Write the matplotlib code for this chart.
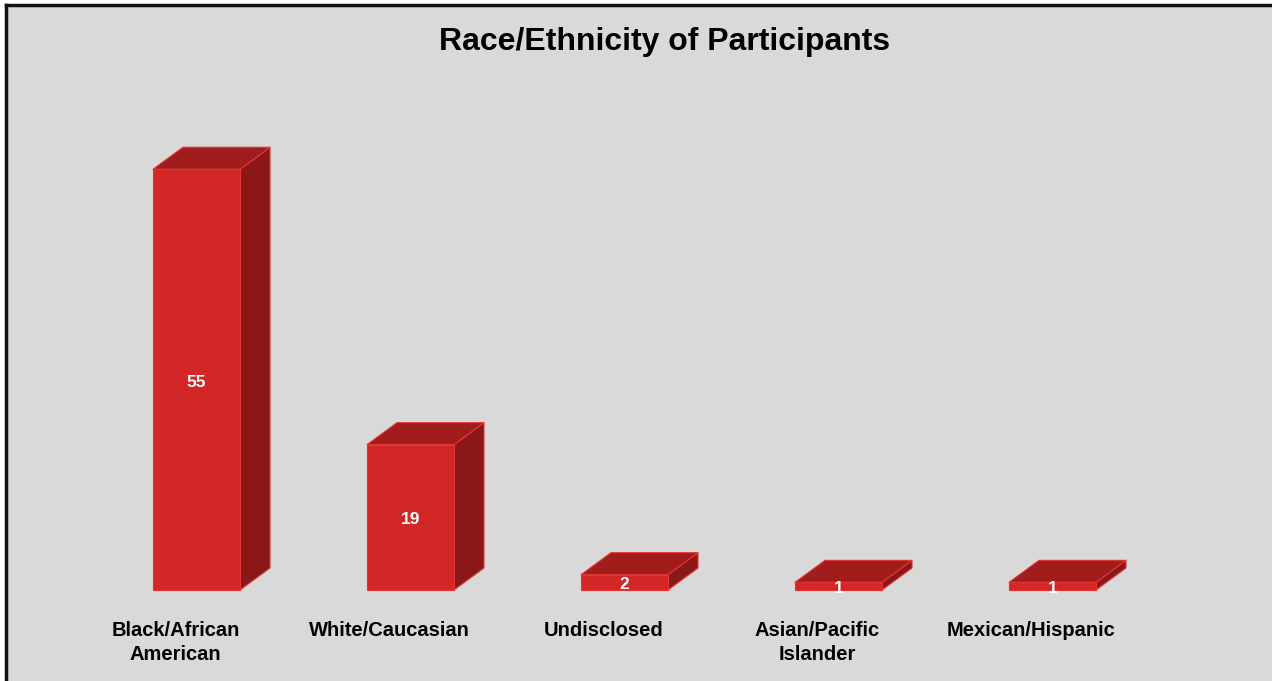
import numpy as np
import matplotlib.pyplot as plt
from matplotlib.patches import Polygon
from matplotlib.lines import Line2D

plt.rcParams['font.family'] = ['Liberation Sans', 'DejaVu Sans']

categories = ["Black/African\nAmerican", "White/Caucasian", "Undisclosed",
              "Asian/Pacific\nIslander", "Mexican/Hispanic"]
values = [55, 19, 2, 1, 1]
title = "Race/Ethnicity of Participants"

W, H = 1272, 681
fig = plt.figure(figsize=(W / 100, H / 100), dpi=100)
fig.patch.set_facecolor("white")

# pixel scale of the plot: one category = 214 px, one unit = 7.65 px
px_x, px_y = 214.0, 7.65
x0_px, y0_px = 196.5, 91.0
ax = fig.add_axes([0, 0, 1, 1])
ax.set_xlim(-x0_px / px_x, (W - x0_px) / px_x)
ax.set_ylim(-y0_px / px_y, (H - y0_px) / px_y)
ax.axis("off")

# grey chart area with black border on left/top
bg = plt.Rectangle((6 / W, 0), 1, 1 - 5 / H, transform=fig.transFigure,
                   facecolor="#D9D9D9", edgecolor="none", zorder=-10)
fig.patches.append(bg)
fig.lines.append(Line2D([6 / W, 6 / W], [0, 1 - 5 / H], transform=fig.transFigure,
                        color="#111111", lw=2.5))
fig.lines.append(Line2D([6 / W, 1], [1 - 5 / H, 1 - 5 / H], transform=fig.transFigure,
                        color="#111111", lw=2.5))

front_c, top_c, side_c, edge_c = "#D32626", "#A11C1C", "#8A1818", "#E23434"
half_w = 43.5 / px_x
dx = 30 / px_x
dy = 22 / px_y

for i, v in enumerate(values):
    l, r = i - half_w, i + half_w
    front = [(l, 0), (r, 0), (r, v), (l, v)]
    side = [(r, 0), (r + dx, dy), (r + dx, v + dy), (r, v)]
    top = [(l, v), (r, v), (r + dx, v + dy), (l + dx, v + dy)]
    for pts, c in ((side, side_c), (top, top_c), (front, front_c)):
        ax.add_patch(Polygon(pts, closed=True, facecolor=c, edgecolor=edge_c,
                             lw=0.8, joinstyle="round"))
    ax.text(i, v / 2 - 2.5 / px_y, str(v), ha="center", va="center", color="white",
            fontsize=12.5, fontweight="bold")
    ax.text(i - 21 / px_x, -31 / px_y, categories[i], ha="center", va="top",
            fontsize=14.5, fontweight="bold", color="black", linespacing=1.3)

fig.text(665 / W, 1 - 42 / H, title, ha="center", va="center",
         fontsize=23, fontweight="bold", color="black")

fig.savefig("out.png", dpi=100, facecolor=fig.get_facecolor())
